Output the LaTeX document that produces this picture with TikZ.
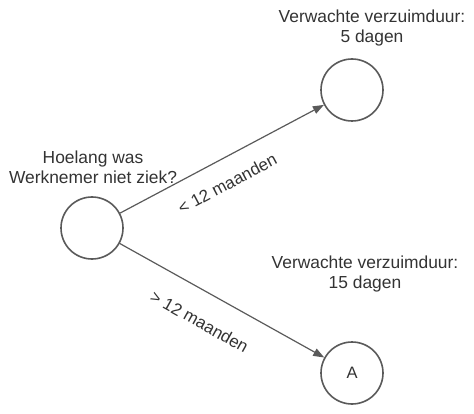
\documentclass[tikz,border=0pt]{standalone}
\usepackage{fontspec}
\setmainfont{Liberation Sans}
\usetikzlibrary{arrows.meta}
\definecolor{linec}{HTML}{5A5A5A}
\definecolor{textc}{HTML}{333333}
\begin{document}
\begin{tikzpicture}[x=1pt,y=1pt,
  circ/.style={circle, draw=linec, line width=1.6pt, minimum size=62pt, inner sep=0pt, text=textc, font=\fontsize{16.5}{19}\selectfont},
  lbl/.style={align=center, text=textc, font=\fontsize{17.4}{20}\selectfont, inner sep=0pt},
  arr/.style={draw=linec, line width=1.2pt, -{Triangle[length=11pt,width=8pt]}},
  elbl/.style={sloped, inner sep=0pt, text=textc, font=\fontsize{17}{19}\selectfont}]
\useasboundingbox (0,0) rectangle (474,413);
\node[circ] (q) at (92,185) {};
\node[circ] (t) at (352,323) {};
\node[circ] (b) at (352,40) {A};
\node[lbl] (qt) at (93,246) {Hoelang was\\Werknemer niet ziek?};
\node[lbl] (tt) at (372,385) {Verwachte verzuimduur:\\5 dagen};
\node[lbl] (bt) at (365,139) {Verwachte verzuimduur:\\15 dagen};
\draw[arr] (q) -- node[elbl, pos=0.47, below=17.5pt] (l1) {< 12 maanden} (t);
\draw[arr] (q) -- node[elbl, pos=0.46, below=22.5pt] (l2) {> 12 maanden} (b);
\end{tikzpicture}
\end{document}
